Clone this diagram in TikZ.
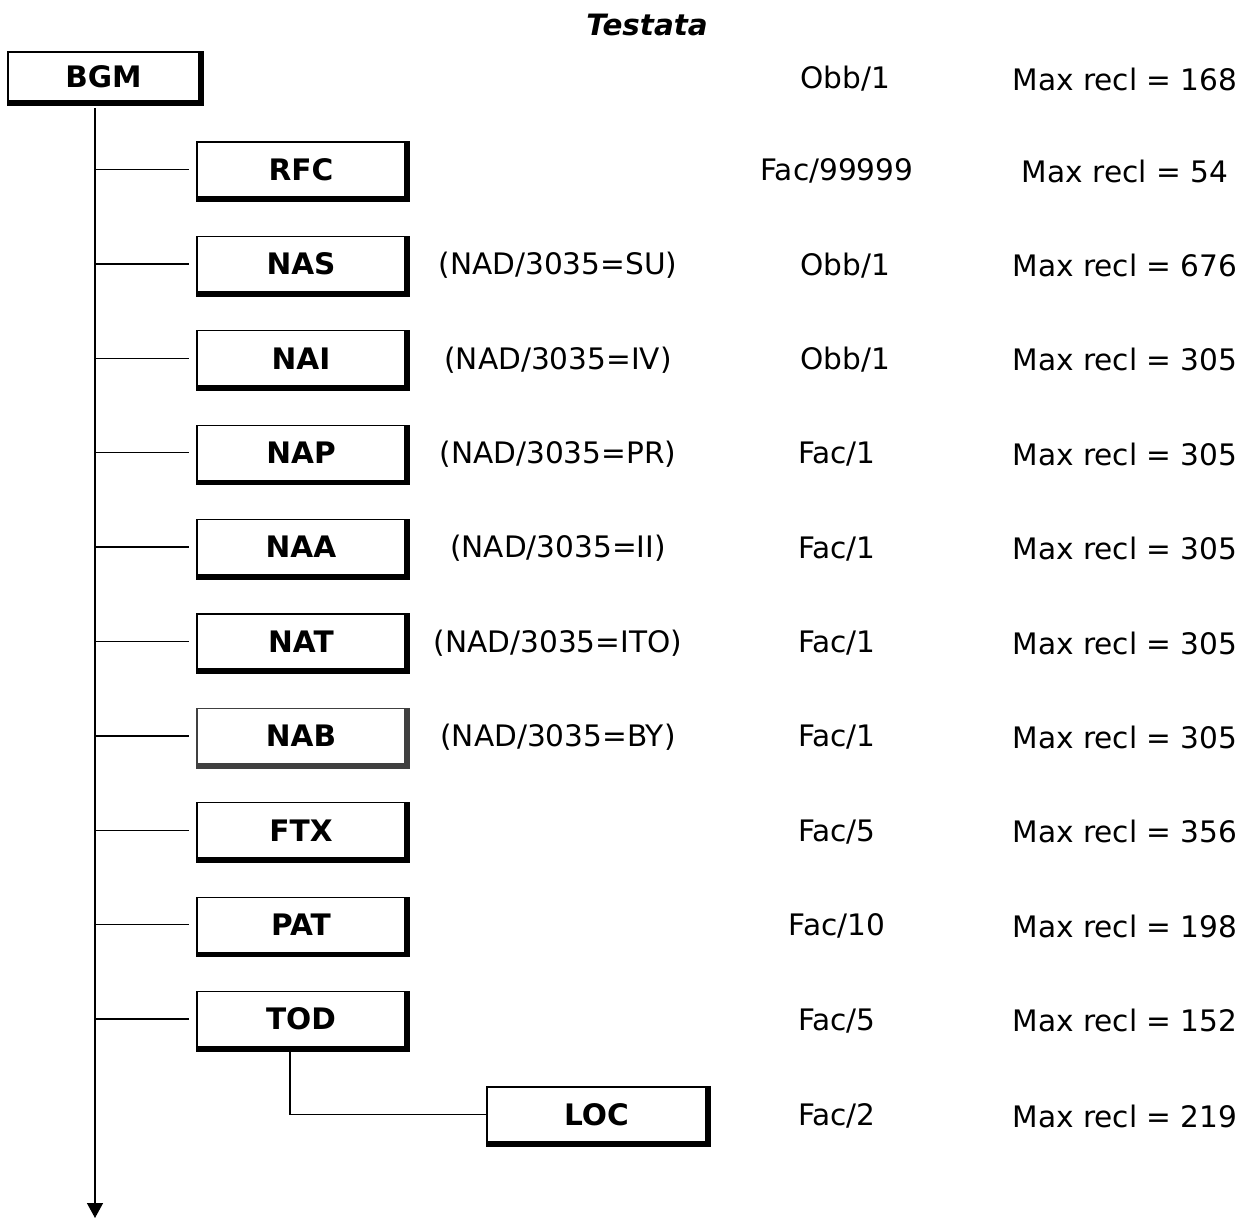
\documentclass[tikz,border=0pt]{standalone}
\usepackage{fontspec}
\setmainfont{DejaVu Sans}
\usetikzlibrary{arrows.meta}
\begin{document}
\begin{tikzpicture}[x=1pt,y=-1pt,
  txt/.style={font=\fontsize{29.6}{33}\selectfont, inner sep=0pt},
  box/.style={draw, line width=1.3pt, fill=white, minimum width=208pt, minimum height=55pt, inner sep=0pt, font=\fontsize{29.6}{33}\selectfont\bfseries},
  shadowline/.style={line width=5pt},
  conn/.style={line width=1.4pt}]
\useasboundingbox (0,0) rectangle (1250,1219);
\node[font=\fontsize{29.4}{33}\selectfont\bfseries\itshape, inner sep=0pt] (title) at (647,25) {Testata};

% root
\node[box, minimum width=191pt, minimum height=49pt] (bgm) at (103.5,76.5) {BGM};
\draw[shadowline] ([yshift=-2pt]bgm.south west) -| ([xshift=2pt]bgm.north east);
\node[txt] (sbgm) at (845,79) {Obb/1};
\node[txt] (mbgm) at (1125,79) {Max recl = 168};

% trunk
\coordinate (trunktop) at (95,108);
\coordinate (trunkend) at (95,1218);
\draw[conn, -{Triangle[width=16pt,length=15pt]}] (trunktop) -- (trunkend);

% children
\foreach \name/\lab/\k/\ptxt/\st/\sx/\mx in {
  rfc/RFC/0//Fac\slash 99999/837/54,
  nas/NAS/1/(NAD\slash 3035=SU)/Obb\slash 1/845/676,
  nai/NAI/2/(NAD\slash 3035=IV)/Obb\slash 1/845/305,
  nap/NAP/3/(NAD\slash 3035=PR)/Fac\slash 1/837/305,
  naa/NAA/4/(NAD\slash 3035=II)/Fac\slash 1/837/305,
  nat/NAT/5/(NAD\slash 3035=ITO)/Fac\slash 1/837/305,
  ftx/FTX/7//Fac\slash 5/837/356,
  pat/PAT/8//Fac\slash 10/837/198,
  tod/TOD/9//Fac\slash 5/837/152}{
  \pgfmathsetmacro{\yy}{169.5+94.4*\k}
  \node[box] (\name) at (301,\yy) {\lab};
  \draw[shadowline] ([yshift=-2pt]\name.south west) -| ([xshift=2pt]\name.north east);
  \draw[conn] (trunktop |- \name.west) -- ([xshift=-7pt]\name.west);
  \node[txt] (p\name) at (558,\yy+1.5) {\ptxt};
  \node[txt] (s\name) at (\sx,\yy+1.5) {\st};
  \node[txt] (m\name) at (1125,\yy+1.5) {Max recl = \mx};
}

% NAB (grey)
\node[box, draw=black!75] (nab) at (301,{169.5+94.4*6}) {NAB};
\draw[shadowline, black!75] ([yshift=-2pt]nab.south west) -| ([xshift=2pt]nab.north east);
\draw[conn] (trunktop |- nab.west) -- ([xshift=-7pt]nab.west);
\node[txt] (pnab) at (558,{171+94.4*6}) {(NAD/3035=BY)};
\node[txt] (snab) at (837,{171+94.4*6}) {Fac/1};
\node[txt] (mnab) at (1125,{171+94.4*6}) {Max recl = 305};

% LOC
\node[box, minimum width=219pt] (loc) at (596.5,1114.5) {LOC};
\draw[shadowline] ([yshift=-2pt]loc.south west) -| ([xshift=2pt]loc.north east);
\draw[conn] ([xshift=-11pt,yshift=-3pt]tod.south) |- (loc.west);
\node[txt] (sloc) at (837,1116) {Fac/2};
\node[txt] (mloc) at (1125,1116) {Max recl = 219};
\end{tikzpicture}
\end{document}
